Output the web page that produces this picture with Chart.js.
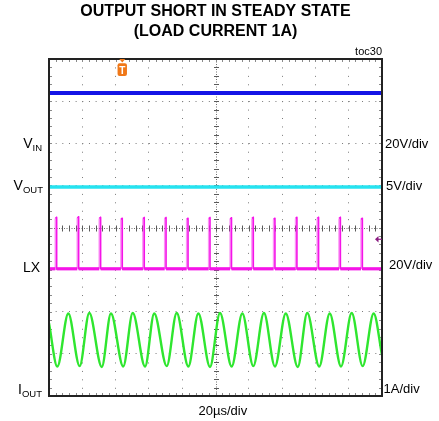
<!DOCTYPE html>
<html><head><meta charset="utf-8">
<script src="https://cdn.jsdelivr.net/npm/chart.js@4.4.1/dist/chart.umd.min.js"></script>
<style>html,body{margin:0;padding:0;background:#fff;}#wrap{width:439px;height:421px;}</style>
</head><body><div id="wrap"><canvas id="c" width="439" height="421"></canvas></div>
<script>
// ---- text ----
const titleLines = ['OUTPUT SHORT IN STEADY STATE', '(LOAD CURRENT 1A)'];
const figureTag = 'toc30';
const timeLabel = '20\u00b5s/div';
const channelMain = ['V', 'V', 'LX', 'I'];
const channelSub = ['IN', 'OUT', '', 'OUT'];
const channelScaleLabels = ['20V/div', '5V/div', '20V/div', '1A/div'];

// ---- scope setup ----
const timeMin = 0, timeMax = 200, timePerDiv = 20;     // µs
const divCount = 8;
const channelUnitsPerDiv = [20, 5, 20, 1];
const channelOffsetDiv = [6, 5, 3, 0];

// ---- traces ----
const vinTime = [0, 200];
const vinVolts = [23.8, 23.8];
const voutTime = [0, 200];
const voutVolts = [-0.2, -0.2];
const lxBaseVolts = 0.4;
const lxSpikeTime = [4.6, 17.8, 31.0, 44.0, 57.2, 70.3, 83.5, 96.7, 109.6, 122.7, 135.7, 148.9, 161.9, 175.0, 188.2];
const lxSpikeVolts = [24.8, 25.1, 24.8, 24.4, 24.7, 24.7, 24.4, 24.7, 24.6, 24.8, 24.4, 24.8, 24.8, 24.8, 24.4];
const lxSpikeWidth = 0.8;
const ioutTime = [0, 5.0, 11.6, 18.4, 24.2, 31.7, 37.2, 44.6, 50.3, 57.7, 63.2, 70.7, 76.7, 83.7, 89.7, 96.7, 102.7, 109.7, 116.1, 122.7, 129.1, 135.7, 142.2, 149.4, 155.1, 162.3, 168.6, 175.4, 181.8, 188.4, 195.0, 200];
const ioutAmps = [1.73, 0.70, 1.96, 0.71, 1.97, 0.69, 1.96, 0.70, 1.97, 0.70, 1.96, 0.71, 1.97, 0.70, 1.96, 0.69, 1.97, 0.70, 1.96, 0.71, 1.97, 0.70, 1.96, 0.69, 1.97, 0.70, 1.96, 0.70, 1.97, 0.71, 1.96, 0.97];
const triggerTime = 44.0;
const triggerLevelVolts = 14.4;

// ---- build points (value -> screen division) ----
function toDiv(ch, v) { return channelOffsetDiv[ch] + v / channelUnitsPerDiv[ch]; }
function pts(ch, t, v) { return t.map((x, i) => ({ x, y: toDiv(ch, v[i]) })); }
const lxBaseDiv = toDiv(2, lxBaseVolts);
const lxPoints = [{ x: timeMin, y: lxBaseDiv }];
lxSpikeTime.forEach((t, i) => {
  lxPoints.push({ x: t - lxSpikeWidth, y: lxBaseDiv });
  lxPoints.push({ x: t - lxSpikeWidth, y: toDiv(2, lxSpikeVolts[i] - 0.5) });
  lxPoints.push({ x: t, y: toDiv(2, lxSpikeVolts[i]) });
  lxPoints.push({ x: t, y: lxBaseDiv });
});
lxPoints.push({ x: timeMax, y: lxBaseDiv });

const LX_BRIGHT = '#f514e8';
const LX_SOFT = 'rgba(245,20,232,0.45)';
const lxSegWidth = c => (c.p0.parsed.y === lxBaseDiv && c.p1.parsed.y === lxBaseDiv ? 3.2 : 1.6);
const lxSegColor = c => (c.p0.parsed.x === c.p1.parsed.x && c.p1.parsed.y > c.p0.parsed.y ? LX_SOFT : LX_BRIGHT);

const FONT = '"Liberation Sans", Arial, Helvetica, sans-serif';

const scopeDecor = {
  id: 'scopeDecor',
  beforeDatasetsDraw(chart) {
    const { ctx, chartArea: a, scales: { x, y } } = chart;
    const cx = Math.round(x.getPixelForValue((timeMin + timeMax) / 2)) + 0.5;
    const cy = Math.round(y.getPixelForValue(divCount / 2)) + 0.5;
    ctx.save();
    ctx.lineWidth = 1;
    ctx.strokeStyle = '#707070';
    ctx.setLineDash([1, 1.5]);
    ctx.beginPath();
    ctx.moveTo(cx, a.top); ctx.lineTo(cx, a.bottom);
    ctx.moveTo(a.left, cy); ctx.lineTo(a.right, cy);
    ctx.stroke();
    ctx.setLineDash([]);
    ctx.strokeStyle = '#5a5a5a';
    ctx.beginPath();
    for (let i = 1; i < divCount * 5; i++) {
      const py = Math.round(y.getPixelForValue(i / 5)) + 0.5;
      ctx.moveTo(cx - 2.5, py); ctx.lineTo(cx + 2.5, py);
    }
    const nx = (timeMax - timeMin) / timePerDiv * 5;
    for (let i = 1; i < nx; i++) {
      const px = Math.round(x.getPixelForValue(timeMin + i * timePerDiv / 5)) + 0.5;
      ctx.moveTo(px, cy - 3); ctx.lineTo(px, cy + 3);
    }
    ctx.stroke();
    // frame minor ticks
    ctx.strokeStyle = '#8a8a8a';
    ctx.beginPath();
    for (let i = 1; i < divCount * 5; i++) {
      const py = Math.round(y.getPixelForValue(i / 5)) + 0.5;
      ctx.moveTo(a.left, py); ctx.lineTo(a.left + 3, py);
      ctx.moveTo(a.right - 3, py); ctx.lineTo(a.right, py);
    }
    for (let i = 1; i < nx; i++) {
      const px = Math.round(x.getPixelForValue(timeMin + i * timePerDiv / 5)) + 0.5;
      ctx.moveTo(px, a.top); ctx.lineTo(px, a.top + 3);
      ctx.moveTo(px, a.bottom - 3); ctx.lineTo(px, a.bottom);
    }
    ctx.stroke();
    ctx.restore();
  },
  afterDatasetsDraw(chart) {
    const { ctx, chartArea: a, scales: { x, y } } = chart;
    ctx.save();
    // frame
    ctx.strokeStyle = '#222';
    ctx.lineWidth = 2;
    ctx.strokeRect(a.left, a.top, a.right - a.left, a.bottom - a.top);
    // trigger position marker
    const tx = x.getPixelForValue(triggerTime);
    ctx.fillStyle = '#f07818';
    ctx.beginPath();
    ctx.moveTo(tx - 3, a.top); ctx.lineTo(tx + 3, a.top); ctx.lineTo(tx, a.top + 3.5); ctx.closePath();
    ctx.fill();
    ctx.beginPath();
    ctx.roundRect(tx - 4.7, a.top + 4.3, 9.4, 12.6, 2);
    ctx.fill();
    ctx.fillStyle = '#fff';
    ctx.font = 'bold 10px ' + FONT;
    ctx.textAlign = 'center';
    ctx.textBaseline = 'alphabetic';
    ctx.fillText('T', tx, a.top + 14.5);
    // trigger level marker (LX channel)
    const ly = y.getPixelForValue(toDiv(2, triggerLevelVolts));
    ctx.fillStyle = '#8a1a80';
    ctx.strokeStyle = '#8a1a80';
    ctx.lineWidth = 1.2;
    ctx.beginPath();
    ctx.moveTo(a.right - 7, ly); ctx.lineTo(a.right - 3.5, ly - 3.2); ctx.lineTo(a.right - 3.5, ly + 3.2); ctx.closePath();
    ctx.fill();
    ctx.beginPath(); ctx.moveTo(a.right - 4, ly); ctx.lineTo(a.right, ly); ctx.stroke();
    ctx.restore();
  },
  afterDraw(chart) {
    const { ctx, chartArea: a, scales: { x, y } } = chart;
    const mid = (a.left + a.right) / 2;
    ctx.save();
    ctx.fillStyle = '#000';
    ctx.textBaseline = 'alphabetic';
    ctx.textAlign = 'center';
    ctx.font = 'bold 16px ' + FONT;
    ctx.fillText(titleLines[0], mid, 15.5);
    ctx.fillText(titleLines[1], mid, 35.5);
    ctx.textAlign = 'right';
    ctx.font = '11px ' + FONT;
    ctx.fillText(figureTag, a.right, 54.5);
    // left channel names
    const leftDy = [5, 5, 2, -2];
    const leftRight = [42, 43, 40, 42];
    channelMain.forEach((m, i) => {
      const gy = y.getPixelForValue(channelOffsetDiv[i]);
      const by = gy + leftDy[i];
      let rx = leftRight[i];
      ctx.textAlign = 'right';
      if (channelSub[i]) {
        ctx.font = '9.5px ' + FONT;
        const sw = ctx.measureText(channelSub[i]).width;
        ctx.fillText(channelSub[i], rx, by + 3);
        rx -= sw;
      }
      ctx.font = '14px ' + FONT;
      ctx.fillText(m, rx, by);
    });
    // right scale labels
    const rightDy = [4.5, 5, -1, -3.5];
    const rightDx = [3, 4, 7, 1.5];
    ctx.textAlign = 'left';
    ctx.font = '13px ' + FONT;
    channelScaleLabels.forEach((s, i) => {
      const gy = y.getPixelForValue(channelOffsetDiv[i]);
      ctx.fillText(s, a.right + rightDx[i], gy + rightDy[i]);
    });
    // time base
    ctx.fillText(timeLabel, x.getPixelForValue((timeMin + timeMax) / 2) - 17, 414.5);
    ctx.restore();
  }
};

const gridColor = (c, skip) => (skip.includes(c.tick.value) ? 'rgba(0,0,0,0)' : '#7a7a7a');

new Chart(document.getElementById('c'), {
  type: 'line',
  data: {
    datasets: [
      { label: 'IOUT', data: pts(3, ioutTime, ioutAmps), borderColor: '#2fe62f', borderWidth: 2.4, cubicInterpolationMode: 'monotone' },
      { label: 'LX', data: lxPoints, borderColor: LX_BRIGHT, borderWidth: 3, tension: 0,
        segment: { borderWidth: lxSegWidth, borderColor: lxSegColor } },
      { label: 'VOUT', data: pts(1, voutTime, voutVolts), borderColor: '#26e3f0', borderWidth: 3.4, tension: 0 },
      { label: 'VIN', data: pts(0, vinTime, vinVolts), borderColor: '#1414e6', borderWidth: 4, tension: 0 }
    ]
  },
  options: {
    responsive: false,
    animation: false,
    devicePixelRatio: 1,
    parsing: false,
    layout: { padding: { left: 49, right: 57, top: 59, bottom: 25 } },
    plugins: { legend: { display: false }, tooltip: { enabled: false }, title: { display: false } },
    elements: { point: { radius: 0 }, line: { borderJoinStyle: 'round', borderCapStyle: 'butt' } },
    scales: {
      x: {
        type: 'linear', min: timeMin, max: timeMax,
        ticks: { display: false, stepSize: timePerDiv },
        grid: { drawTicks: false, lineWidth: 1, color: c => gridColor(c, [timeMin, (timeMin + timeMax) / 2, timeMax]), borderDash: [1, 7.43] },
        border: { display: false, dash: [1, 7.43] },
        afterFit(s) { s.height = 0; }
      },
      y: {
        type: 'linear', min: 0, max: divCount,
        ticks: { display: false, stepSize: 1 },
        grid: { drawTicks: false, lineWidth: 1, color: c => gridColor(c, [0, divCount / 2, divCount]), borderDash: [1, 5.66] },
        border: { display: false, dash: [1, 5.66] },
        afterFit(s) { s.width = 0; }
      }
    }
  },
  plugins: [scopeDecor]
});
</script>
</body></html>
